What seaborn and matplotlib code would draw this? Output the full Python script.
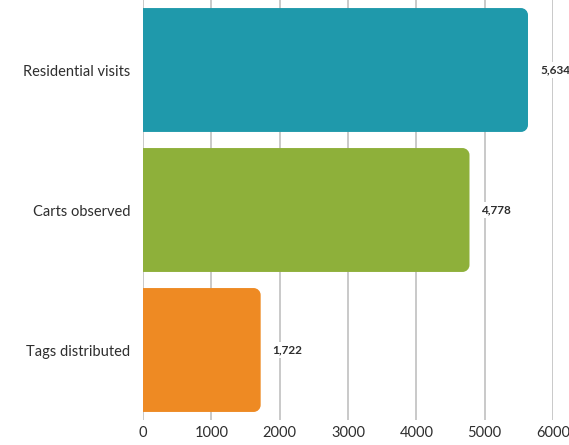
import matplotlib
matplotlib.use("Agg")
import matplotlib.pyplot as plt
import seaborn as sns
import pandas as pd
from matplotlib.path import Path
from matplotlib.patches import PathPatch

categories = ["Residential visits", "Carts observed", "Tags distributed"]
values = [5634, 4778, 1722]
value_labels = ["5,634", "4,778", "1,722"]
colors = ["#1f99ab", "#8eb03a", "#ee8a23"]
xticks = [0, 1000, 2000, 3000, 4000, 5000, 6000]

sns.set_style("white")
plt.rcParams["font.family"] = ["Lato", "DejaVu Sans"]

df = pd.DataFrame({"category": categories, "value": values})

W, H = 569, 445
fig = plt.figure(figsize=(W / 100, H / 100), dpi=100)
ax = fig.add_axes([143 / W, 1 - 420 / H, (553 - 143) / W, 420 / H])

sns.barplot(data=df, x="value", y="category", hue="category", palette=colors,
            legend=False, width=0.885, ax=ax, saturation=1)

ax.set_xlim(0, 6000)
ax.set_ylim(2.5, -0.5)

# rounded right corners
px_x = 1000 / 68.3
px_y = 1 / 140.0
rx, ry = 7 * px_x, 7 * px_y
k = 0.5523
for p in list(ax.patches):
    x0, y0 = p.get_x(), p.get_y()
    w, h = p.get_width(), p.get_height()
    x1, y1 = x0 + w, y0 + h
    fc = p.get_facecolor()
    verts = [
        (x0, y0),
        (x1 - rx, y0),
        (x1 - rx + k * rx, y0), (x1, y0 + ry - k * ry), (x1, y0 + ry),
        (x1, y1 - ry),
        (x1, y1 - ry + k * ry), (x1 - rx + k * rx, y1), (x1 - rx, y1),
        (x0, y1),
        (x0, y0),
    ]
    codes = [Path.MOVETO, Path.LINETO,
             Path.CURVE4, Path.CURVE4, Path.CURVE4,
             Path.LINETO,
             Path.CURVE4, Path.CURVE4, Path.CURVE4,
             Path.LINETO, Path.CLOSEPOLY]
    p.remove()
    ax.add_patch(PathPatch(Path(verts, codes), facecolor=fc, edgecolor="none", zorder=2))

for i, (v, lab) in enumerate(zip(values, value_labels)):
    ax.text(v + 12 * px_x, i, lab, va="center", ha="left", fontsize=8.5, fontweight="bold",
            color="#2e2e2e", clip_on=False, zorder=4,
            bbox=dict(facecolor="white", edgecolor="none", pad=1.5))

ax.set_xticks(xticks)
ax.set_xticklabels([str(t) for t in xticks])
ax.grid(axis="x", color="#c9c9c9", linewidth=1.4, zorder=0)
ax.grid(axis="y", visible=False)
ax.set_axisbelow(True)
for s in ax.spines.values():
    s.set_visible(False)
ax.tick_params(axis="both", length=0, labelsize=10.5, colors="#2e2e2e", pad=4)
ax.tick_params(axis="y", pad=9)
ax.set_xlabel("")
ax.set_ylabel("")

fig.savefig("out.png", dpi=100)
